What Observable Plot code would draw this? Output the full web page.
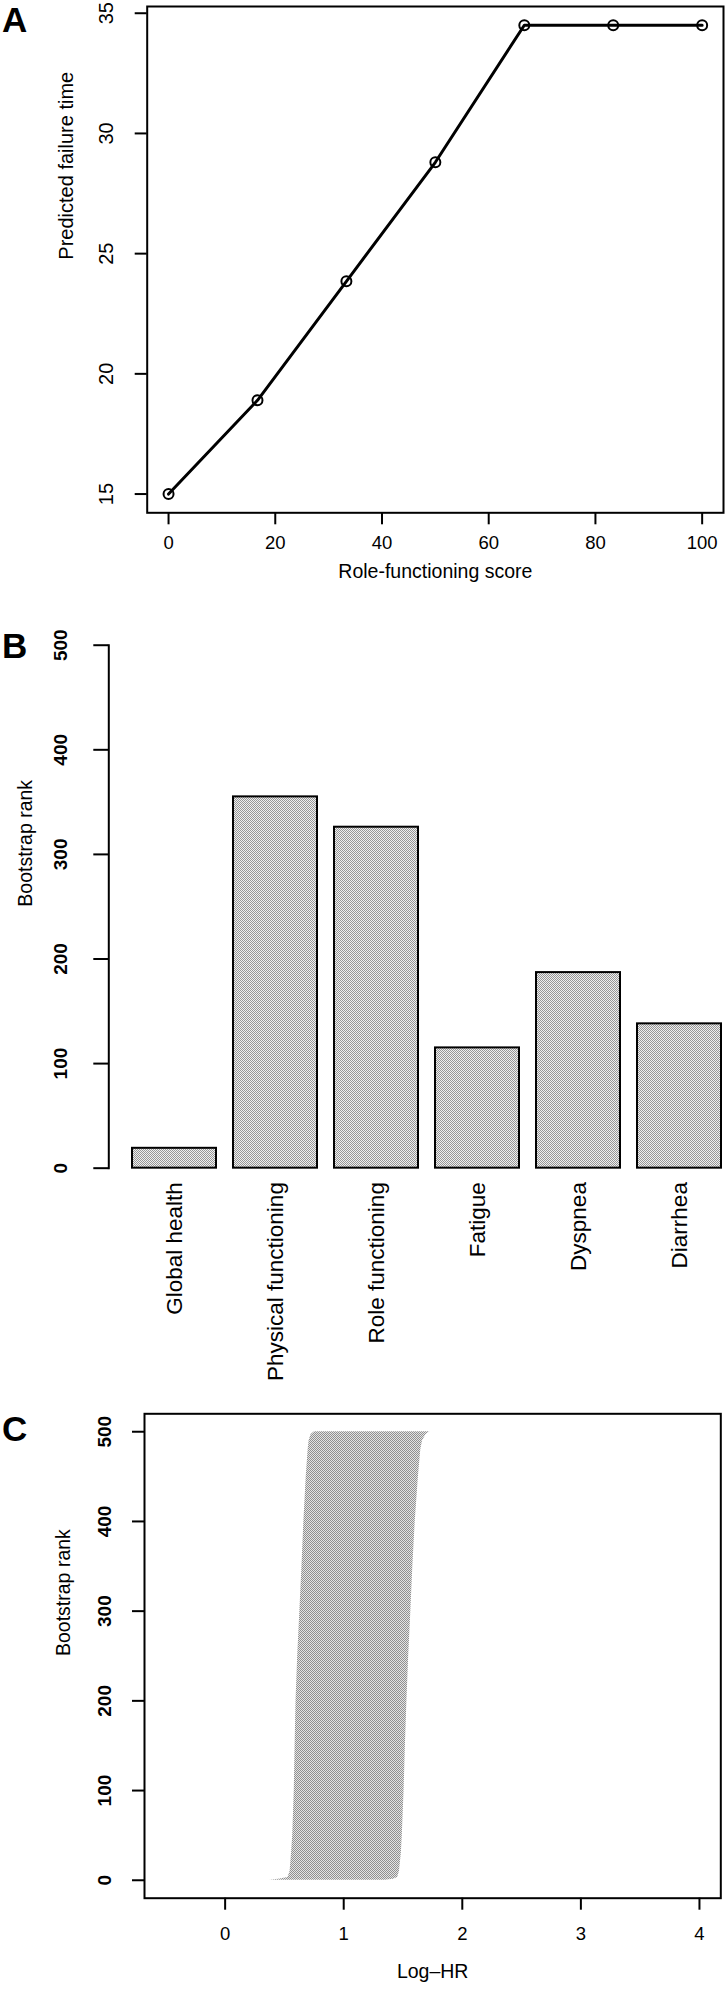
<!DOCTYPE html>
<html>
<head>
<meta charset="utf-8">
<script src="https://cdn.jsdelivr.net/npm/d3@7"></script>
<script src="https://cdn.jsdelivr.net/npm/@observablehq/plot@0.6"></script>
<style>
  body { margin: 0; background: white; }
  #wrap { position: relative; width: 727px; height: 1990px; overflow: hidden; background: white; }
  .panel { position: absolute; left: 0; }
  .tag { position: absolute; left: 2px; font-family: "Liberation Sans", Arial, sans-serif; font-weight: bold; font-size: 35px; line-height: 35px; color: black; }
  svg { display: block; }
</style>
</head>
<body>
<svg width="0" height="0" style="position:absolute">
  <defs>
    <pattern id="hatchB" patternUnits="userSpaceOnUse" width="2" height="2">
      <rect width="2" height="2" fill="#efefef"/>
      <rect width="1" height="1" fill="#969696"/>
      <rect x="1" y="1" width="1" height="1" fill="#969696"/>
    </pattern>
    <pattern id="stippleC" patternUnits="userSpaceOnUse" width="2" height="2">
      <rect width="2" height="2" fill="#e4e4e4"/>
      <rect width="1" height="1" fill="#909090"/>
      <rect x="1" y="1" width="1" height="1" fill="#909090"/>
    </pattern>
  </defs>
</svg>
<div id="wrap">
  <div class="panel" id="panelA" style="top:0px"></div>
  <div class="panel" id="panelB" style="top:600px"></div>
  <div class="panel" id="panelC" style="top:1400px"></div>
  <div class="tag" style="top:2px">A</div>
  <div class="tag" style="top:628px">B</div>
  <div class="tag" style="top:1411px">C</div>
</div>
<script>
// ---------- Panel A data ----------
const roleScore = [0, 16.67, 33.33, 50, 66.67, 83.33, 100];
const failureTime = [15.0, 18.9, 23.85, 28.8, 34.5, 34.5, 34.5];
const xTicksA = [0, 20, 40, 60, 80, 100];
const yTicksA = [15, 20, 25, 30, 35];
const xLabelA = "Role-functioning score";
const yLabelA = "Predicted failure time";

// ---------- Panel B data ----------
const categories = ["Global health", "Physical functioning", "Role functioning", "Fatigue", "Dyspnea", "Diarrhea"];
const bootstrapRank = [19, 355, 326, 115, 187, 138];
const yTicksB = [0, 100, 200, 300, 400, 500];
const yLabelB = "Bootstrap rank";

// ---------- Panel C data (edges of the band of bootstrap intervals) ----------
const bandRank  = [0,     1,    3,    10,    30,    50,    100,   150,   200,   250,   300,   350,   400,   450,   480,   490,   497,   500];
const bandLower = [0.375, 0.45, 0.53, 0.548, 0.560, 0.570, 0.583, 0.590, 0.598, 0.612, 0.630, 0.648, 0.664, 0.684, 0.700, 0.708, 0.725, 0.754];
const bandUpper = [1.35,  1.42, 1.455, 1.47, 1.486, 1.494, 1.509, 1.520, 1.533, 1.548, 1.566, 1.583, 1.603, 1.630, 1.650, 1.665, 1.695, 1.727];
const xTicksC = [0, 1, 2, 3, 4];
const yTicksC = [0, 100, 200, 300, 400, 500];
const xLabelC = "Log–HR";
const yLabelC = "Bootstrap rank";

const FONT = "'Liberation Sans', Arial, Helvetica, sans-serif";
const baseStyle = {fontFamily: FONT, fontSize: "18px", background: "white", color: "black", overflow: "visible"};
const intFmt = d3.format("d");

// ---------- Panel A ----------
const rowsA = roleScore.map((x, i) => ({x, y: failureTime[i]}));
const plotA = Plot.plot({
  width: 727, height: 600,
  marginLeft: 146.7, marginRight: 4, marginTop: 6, marginBottom: 87.7,
  style: baseStyle,
  x: {domain: [-4, 104]},
  y: {domain: [14.22, 35.28]},
  marks: [
    Plot.frame({stroke: "black", strokeWidth: 2}),
    Plot.axisY({ticks: yTicksA, tickFormat: intFmt, tickSize: 12, tickPadding: 22.7, tickRotate: -90, fontSize: 20, strokeWidth: 2, label: null}),
    Plot.axisX({ticks: xTicksA, tickFormat: intFmt, tickSize: 12, tickPadding: 10.8, fontSize: 18.5, strokeWidth: 2, label: null}),
    Plot.line(rowsA, {x: "x", y: "y", stroke: "black", strokeWidth: 3}),
    Plot.dot(rowsA, {x: "x", y: "y", r: 5, stroke: "black", strokeWidth: 2, fill: "none"}),
    Plot.text([xLabelA], {frameAnchor: "bottom", dy: 64.7, fontSize: 19.5, text: d => d}),
    Plot.text([yLabelA], {frameAnchor: "left", dx: -80.7, rotate: -90, fontSize: 20, text: d => d})
  ]
});
document.getElementById("panelA").appendChild(plotA);

// ---------- Panel B ----------
const rowsB = categories.map((c, i) => ({cat: c, rank: bootstrapRank[i]}));
const plotB = Plot.plot({
  width: 727, height: 800,
  marginLeft: 108.3, marginRight: -18.2, marginTop: 23.8, marginBottom: 211.4,
  style: baseStyle,
  x: {type: "band", domain: categories, paddingInner: 0.1667, paddingOuter: 0.2313, align: 0.5},
  y: {domain: [-20, 520]},
  marks: [
    Plot.barY(rowsB, {x: "cat", y: "rank", fill: "url(#hatchB)", stroke: "black", strokeWidth: 2}),
    Plot.frame({anchor: "left", insetTop: 20.9, insetBottom: 20.9, stroke: "black", strokeWidth: 2}),
    Plot.axisY({ticks: yTicksB, tickFormat: intFmt, tickSize: 15, tickPadding: 27.3, tickRotate: -90, fontSize: 19, fontWeight: "bold", strokeWidth: 2, label: null}),
    Plot.axisX({tickSize: 0, tickPadding: -7, tickRotate: -90, fontSize: 22.5, label: null}),
    Plot.text([yLabelB], {frameAnchor: "left", dx: -82.8, rotate: -90, fontSize: 19.5, text: d => d})
  ]
});
document.getElementById("panelB").appendChild(plotB);

// ---------- Panel C ----------
const rowsC = bandRank.map((r, i) => ({rank: r, lower: bandLower[i], upper: bandUpper[i]}));
const plotC = Plot.plot({
  width: 727, height: 590,
  marginLeft: 144, marginRight: 6.7, marginTop: 13.3, marginBottom: 92.3,
  style: baseStyle,
  x: {domain: [-0.68, 4.18]},
  y: {domain: [-20, 520]},
  marks: [
    Plot.areaX(rowsC, {y: "rank", x1: "lower", x2: "upper", fill: "url(#stippleC)"}),
    Plot.frame({stroke: "black", strokeWidth: 2}),
    Plot.axisY({ticks: yTicksC, tickFormat: intFmt, tickSize: 12, tickPadding: 22, tickRotate: -90, fontSize: 19, fontWeight: "bold", strokeWidth: 2, label: null}),
    Plot.axisX({ticks: xTicksC, tickFormat: intFmt, tickSize: 12, tickPadding: 16.4, fontSize: 18.5, strokeWidth: 2, label: null}),
    Plot.text([xLabelC], {frameAnchor: "bottom", dy: 79.6, fontSize: 19.5, text: d => d}),
    Plot.text([yLabelC], {frameAnchor: "left", dx: -81, rotate: -90, fontSize: 19.5, text: d => d})
  ]
});
document.getElementById("panelC").appendChild(plotC);
</script>
</body>
</html>
